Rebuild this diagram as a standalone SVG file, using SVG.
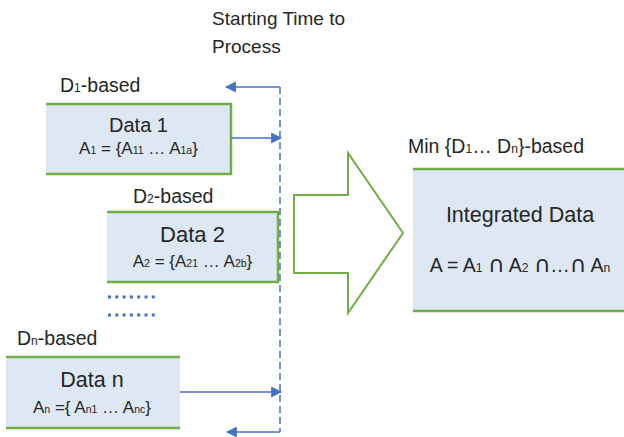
<svg xmlns="http://www.w3.org/2000/svg" width="624" height="437" viewBox="0 0 624 437">
<style>
text{font-family:"Liberation Sans",Arial,sans-serif;fill:#262626}
.box{fill:#dde8f4;stroke:none}
.edge{stroke:#70ad47;stroke-width:2.5;fill:none}
.lbl{font-size:19.5px}
.title{font-size:21px}
.sub{font-size:17px}
.s{font-size:0.62em}
.cap{font-family:"DejaVu Sans",sans-serif;font-size:1.15em}
.conn{stroke:#4472c4;stroke-width:1.5;fill:none}
.dots{stroke:#4472c4;stroke-width:3;stroke-dasharray:3 4.3;fill:none}
</style>
<defs>
<marker id="ah" viewBox="0 0 10 10" refX="9" refY="5" markerWidth="11" markerHeight="11" markerUnits="userSpaceOnUse" orient="auto">
<path d="M0,0 L10,5 L0,10 z" fill="#4472c4"/>
</marker>
</defs>
<text class="lbl" x="212" y="25" style="font-size:19px">Starting Time to</text>
<text class="lbl" x="212" y="53" style="font-size:19px">Process</text>
<g id="data1">
<text class="lbl" x="60" y="92">D<tspan class="s">1</tspan>-based</text>
<rect class="box" x="46" y="104" width="185" height="70"/>
<path class="edge" d="M46,104 H231 V174 H46"/>
<text class="title" x="138.5" y="132" text-anchor="middle" style="font-size:20px">Data 1</text>
<text class="sub" x="138.5" y="154" text-anchor="middle">A<tspan class="s">1</tspan> = {A<tspan class="s">11</tspan> … A<tspan class="s">1a</tspan>}</text>
</g>
<g id="data2">
<text class="lbl" x="133" y="203">D<tspan class="s">2</tspan>-based</text>
<rect class="box" x="107" y="212" width="171" height="70"/>
<path class="edge" d="M107,212 H278 V282 H107"/>
<text class="title" x="192.5" y="242" text-anchor="middle" style="font-size:22px">Data 2</text>
<text class="sub" x="192.5" y="267" text-anchor="middle">A<tspan class="s">2</tspan> = {A<tspan class="s">21</tspan> … A<tspan class="s">2b</tspan>}</text>
</g>
<g id="ellipsis">
<path class="dots" d="M108,297 H156 M108,315 H156"/>
</g>
<g id="datan">
<text class="lbl" x="17" y="345">D<tspan class="s">n</tspan>-based</text>
<rect class="box" x="6" y="357" width="174" height="71"/>
<path class="edge" d="M6,357 H180 M6,428 H180"/>
<text class="title" x="92" y="387" text-anchor="middle" style="font-size:21.5px">Data n</text>
<text class="sub" x="92" y="413" text-anchor="middle">A<tspan class="s">n</tspan> ={ A<tspan class="s">n1</tspan> … A<tspan class="s">nc</tspan>}</text>
</g>
<g id="bigarrow">
<polygon points="294,195 348,195 348,153 403,233 348,313 348,273 294,273" fill="#ffffff" stroke="#70ad47" stroke-width="2"/>
</g>
<g id="integrated">
<text class="lbl" x="408" y="153">Min {D<tspan class="s">1</tspan>… D<tspan class="s">n</tspan>}-based</text>
<rect class="box" x="413" y="169" width="211" height="142"/>
<path class="edge" d="M413,169 H624 M413,311 H624"/>
<text class="title" x="520" y="222" text-anchor="middle" style="font-size:21.5px">Integrated Data</text>
<text class="sub" x="520" y="272" text-anchor="middle" style="font-size:19.5px">A = A<tspan class="s">1</tspan> <tspan class="cap">∩</tspan> A<tspan class="s">2</tspan> <tspan class="cap">∩</tspan>…<tspan class="cap">∩</tspan> A<tspan class="s">n</tspan></text>
</g>
<g id="connectors">
<path class="conn" d="M280,87 V432" stroke-dasharray="7 4"/>
<path class="conn" d="M280,87 H226" marker-end="url(#ah)"/>
<path class="conn" d="M231,138 H281" marker-end="url(#ah)"/>
<path class="conn" d="M180,392 H281" marker-end="url(#ah)"/>
<path class="conn" d="M280,432 H227" marker-end="url(#ah)"/>
</g>
</svg>
